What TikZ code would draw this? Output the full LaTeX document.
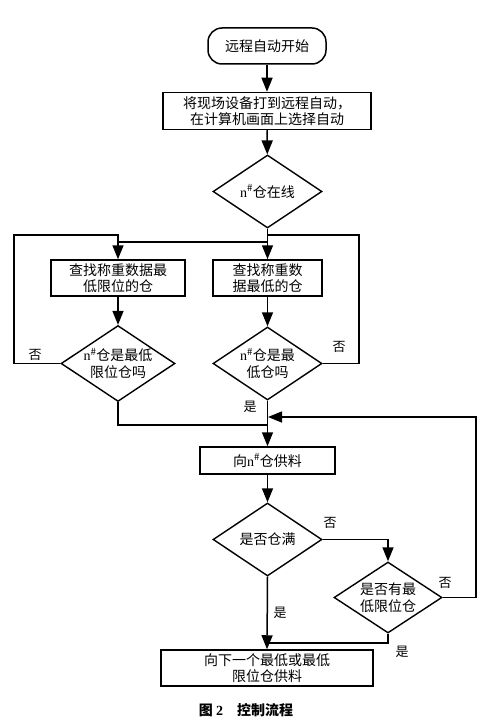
\documentclass[tikz,border=0pt]{standalone}
\usepackage{fontspec}
\setmainfont{Liberation Serif}
\newfontfamily\cjk{Noto Sans CJK SC}
\usetikzlibrary{shapes.geometric,arrows.meta}
\newcommand\nsh{{\normalfont n}\textsuperscript{\#}}
\begin{document}
\begin{tikzpicture}[x=1pt,y=-1pt,
  every node/.style={font=\cjk\fontsize{14}{16.5}\selectfont, align=center, inner sep=0pt},
  box/.style={draw, line width=1.5pt, rectangle},
  term/.style={draw, line width=1.5pt, rectangle, rounded corners=14pt, minimum width=118pt, minimum height=36pt},
  dia/.style={draw, line width=1.4pt, diamond, aspect=1.5, minimum width=109pt, minimum height=73pt},
  lab/.style={font=\cjk\fontsize{13}{15}\selectfont},
  ln/.style={line width=1.5pt},
  arr/.style={line width=1.5pt, -{Triangle[length=14pt,width=11pt]}}
]
\useasboundingbox (0,0) rectangle (492,727);
\node[term] (start) at (267,46) {远程自动开始};
\node[box, minimum width=208pt, minimum height=37pt] (b1) at (267,111) {将现场设备打到远程自动，\\在计算机画面上选择自动};
\node[dia] (d1) at (267.5,191.5) {\nsh 仓在线};
\node[box, minimum width=134pt, minimum height=36pt] (bl) at (118,278) {查找称重数据最\\低限位的仓};
\node[box, minimum width=109pt, minimum height=36pt] (br) at (267.5,278) {查找称重数\\据最低的仓};
\node[dia, minimum width=108pt] (dl) at (118,363.5) {\nsh 仓是最低\\限位仓吗};
\node[dia] (dr) at (267.5,363.5) {\nsh 仓是最\\低仓吗};
\node[box, minimum width=135pt, minimum height=27pt] (feed) at (267.5,460.5) {向\nsh 仓供料};
\node[dia] (dfull) at (267.5,539.5) {是否仓满};
\node[dia, minimum width=108pt, minimum height=71pt] (dhas) at (388,597.5) {是否有最\\低限位仓};
\node[box, minimum width=212pt, minimum height=36pt] (final) at (267,668) {向下一个最低或最低\\限位仓供料};
\node[font=\cjk\bfseries\fontsize{14}{16}\selectfont] (cap) at (246,710) {图 {\normalfont\bfseries 2}\quad 控制流程};

\coordinate (jl) at (118,242);
\coordinate (jm) at (267.5,242);
\coordinate (lt) at (14,235);
\coordinate (ltr) at (118,235);
\coordinate (rt) at (359,235);
\coordinate (rtl) at (267.5,235);
\coordinate (jb) at (267.5,425);
\coordinate (rr) at (476,417);
\coordinate (jr) at (268,417);
\coordinate (jf) at (267.5,643);

\draw[arr] (start) -- (b1);
\draw[arr] (b1) -- (d1);
\draw[arr] (d1.south) -- (br.north);
\draw[ln] (jm) -- (jl);
\draw[arr] (dl.west) -| (lt) -- (ltr) -- (bl.north);
\draw[ln] (dr.east) -| (rt) -- (rtl);
\draw[arr] (bl) -- (dl);
\draw[arr] (br) -- (dr);
\draw[ln] (dl.south) |- (jb);
\draw[arr] (dr.south) -- (feed.north);
\draw[arr] (dhas.east) -| (rr) -- (jr);
\draw[arr] (feed) -- (dfull);
\draw[arr] (dfull.east) -| (dhas.north);
\draw[arr] (dfull.south) -- (final.north);
\draw[ln] (dhas.south) |- (jf);

\node[lab] (n1) at (35,355) {否};
\node[lab] (n2) at (339,347) {否};
\node[lab] (y1) at (250,407) {是};
\node[lab] (n3) at (330,523) {否};
\node[lab] (n4) at (445,583) {否};
\node[lab] (y2) at (402,652) {是};
\node[lab] (y3) at (280,613) {是};
\end{tikzpicture}
\end{document}
